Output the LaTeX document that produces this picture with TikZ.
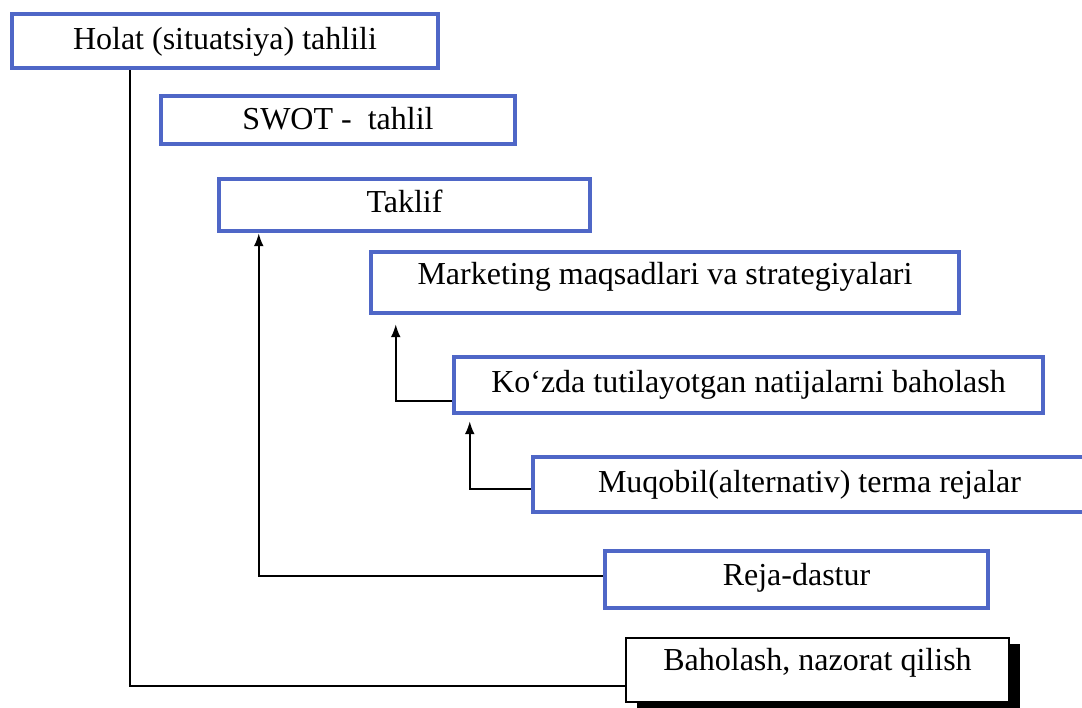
\documentclass[tikz,border=0pt]{standalone}
\usepackage{fontspec}
\setmainfont{Liberation Serif}
\usetikzlibrary{arrows.meta,shadows}
\definecolor{boxblue}{RGB}{79,103,199}
\tikzset{
  bluebox/.style={draw=boxblue, line width=4.5pt, fill=white, inner sep=0pt,
    text height=22pt, font=\fontsize{32}{38}\selectfont},
  blackbox/.style={draw=black, line width=2pt, fill=white, inner sep=0pt,
    text height=22pt, font=\fontsize{32}{38}\selectfont,
    drop shadow={shadow xshift=11pt, shadow yshift=-6pt, opacity=1, fill=black}},
  conn/.style={draw=black, line width=2pt},
  arr/.style={conn, -{Latex[length=13pt,width=10pt]}}
}
\begin{document}
\begin{tikzpicture}[x=1pt,y=-1pt]
\useasboundingbox (0,0) rectangle (1082,708);
\clip (0,0) rectangle (1082,708);
\node[bluebox, minimum width=426pt, minimum height=54pt, text depth=4pt] (holat) at (225,41) {Holat (situatsiya) tahlili};
\node[bluebox, minimum width=354pt, minimum height=48pt, text depth=2pt] (swot) at (338,120) {SWOT -\ \ tahlil};
\node[bluebox, minimum width=371pt, minimum height=52pt, text depth=6pt] (taklif) at (404.5,205) {Taklif};
\node[bluebox, minimum width=588pt, minimum height=61pt, text depth=17pt] (marketing) at (665,282.5) {Marketing maqsadlari va strategiyalari};
\node[bluebox, minimum width=589pt, minimum height=56pt, text depth=6pt] (kozda) at (748.5,385) {Ko‘zda tutilayotgan natijalarni baholash};
\node[bluebox, minimum width=553pt, minimum height=55pt, text depth=7pt] (muqobil) at (809.5,484.5) {Muqobil(alternativ) terma rejalar};
\node[bluebox, minimum width=383pt, minimum height=57pt, text depth=11pt] (reja) at (796.5,579.5) {Reja-dastur};
\node[blackbox, minimum width=383pt, minimum height=64pt, text depth=22pt] (baholash) at (817.5,670) {Baholash, nazorat qilish};

\draw[conn] ([xshift=120pt]holat.south west) |- ([yshift=-16pt]baholash.west);
\draw[arr] ([yshift=3.5pt]reja.west) -| ([xshift=42pt]taklif.south west);
\draw[arr] ([yshift=-16pt]kozda.west) -| ([xshift=27pt,yshift=-9pt]marketing.south west);
\draw[arr] ([yshift=-4.5pt]muqobil.west) -| ([xshift=18pt,yshift=-6pt]kozda.south west);
\end{tikzpicture}
\end{document}
